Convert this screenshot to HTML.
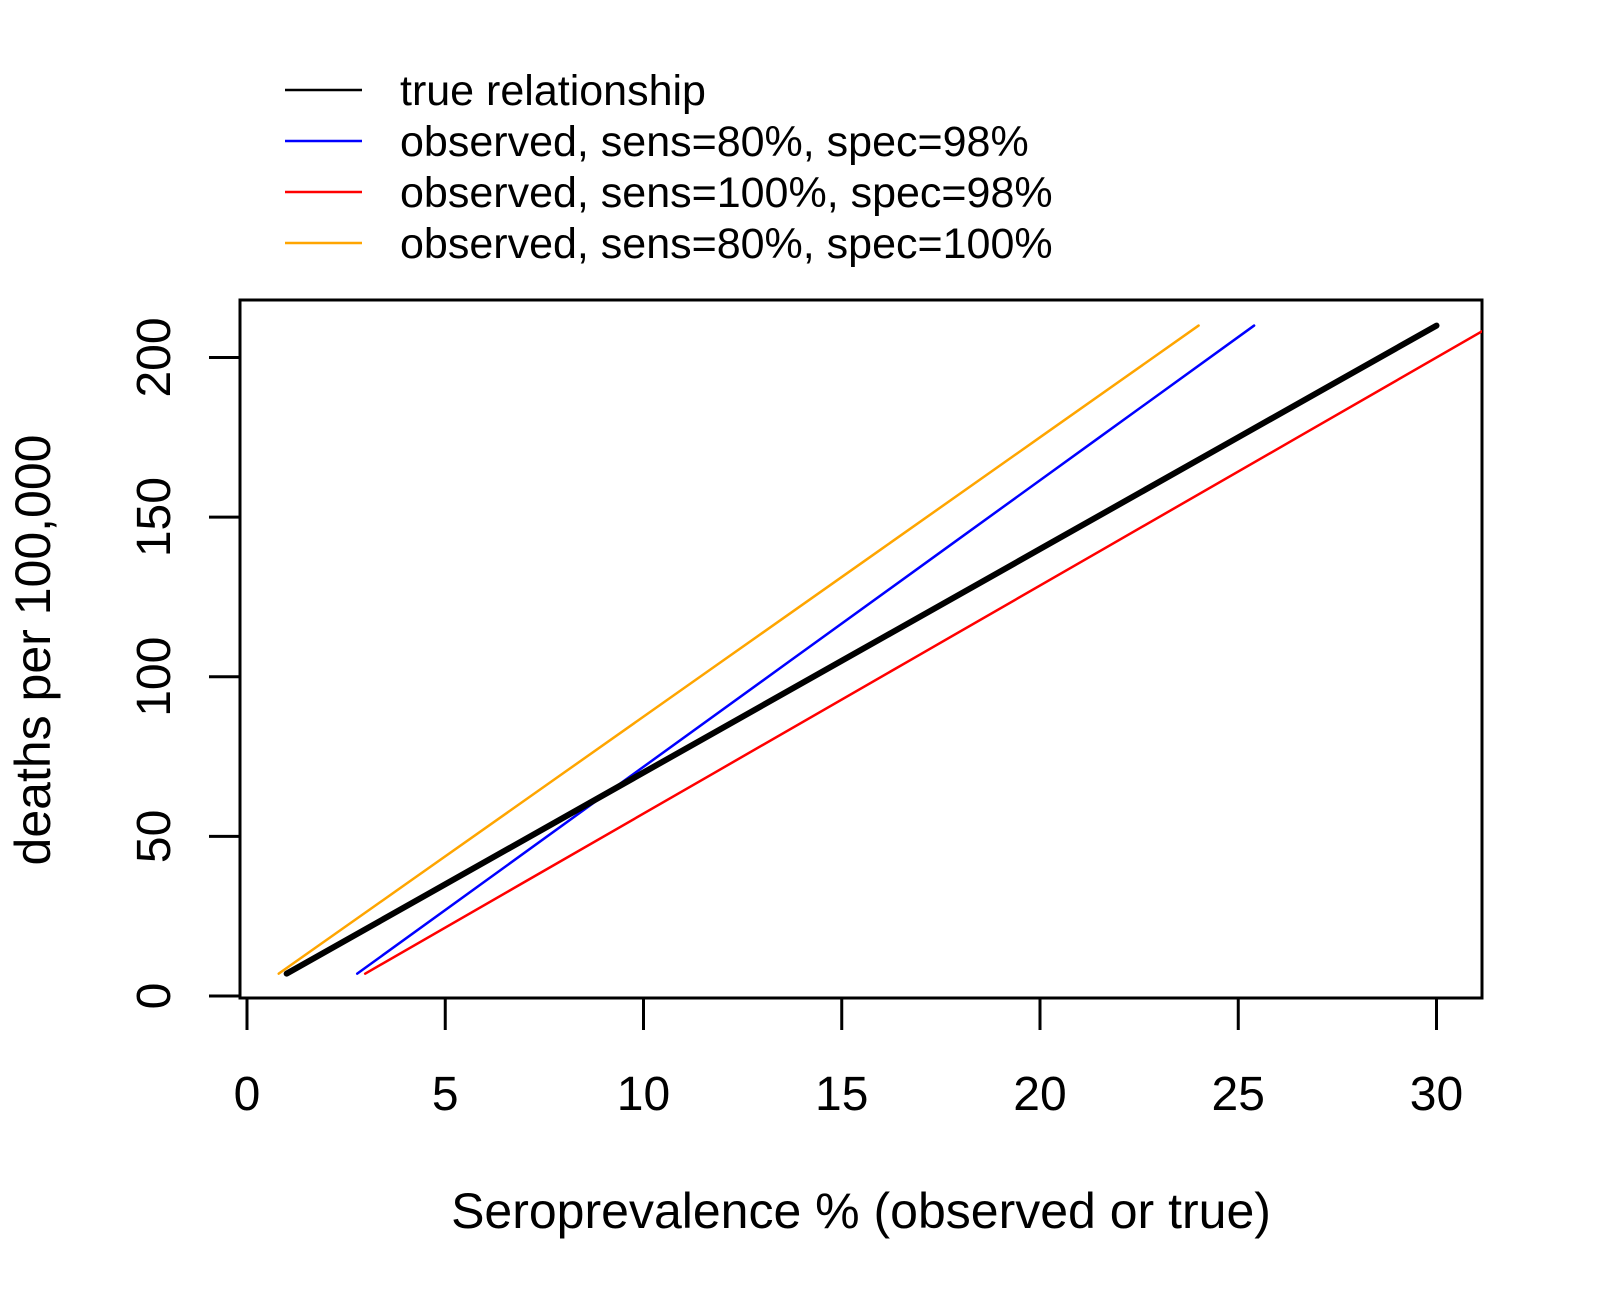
<!DOCTYPE html>
<html><head><meta charset="utf-8"><style>
html,body{margin:0;padding:0;background:#fff;}
svg{display:block;font-family:"Liberation Sans",Arial,sans-serif;}
</style></head><body>
<svg id="chart" width="1600" height="1300" viewBox="0 0 1600 1300">
<defs><clipPath id="plotclip"><rect x="240" y="300" width="1242" height="698"/></clipPath></defs>
<rect x="240" y="300" width="1242" height="698" fill="none" stroke="#000" stroke-width="3"/>
<g id="xticks"></g>
<g id="yticks"></g>
<g id="series" clip-path="url(#plotclip)"></g>
<g id="legend"></g>
<text x="861" y="1228" font-size="50" text-anchor="middle">Seroprevalence % (observed or true)</text>
<text x="0" y="0" font-size="50" text-anchor="middle" transform="translate(50,650) rotate(-90)">deaths per 100,000</text>
</svg>
<script>
const xTicks = [0,5,10,15,20,25,30];
const yTicks = [0,50,100,150,200];
const seriesNames = ["true relationship","observed, sens=80%, spec=98%","observed, sens=100%, spec=98%","observed, sens=80%, spec=100%"];
const deaths = [7,35,70,105,140,175,210];
const trueX = [1,5,10,15,20,25,30];
const blueX = [2.78,5.9,9.8,13.7,17.6,21.5,25.4];
const redX = [2.98,6.9,11.8,16.7,21.6,26.5,31.4];
const orangeX = [0.8,4,8,12,16,20,24];

const NS="http://www.w3.org/2000/svg";
function sx(v){return 247 + v*39.65;}
function sy(v){return 996 - v*3.1925;}
function mk(tag,attrs,parent){const e=document.createElementNS(NS,tag);for(const k in attrs)e.setAttribute(k,attrs[k]);parent.appendChild(e);return e;}

const xg=document.getElementById('xticks');
mk('line',{x1:sx(xTicks[0]),x2:sx(xTicks[xTicks.length-1]),y1:998,y2:998,stroke:'#000','stroke-width':3},xg);
xTicks.forEach(t=>{
  const l=mk('line',{x1:sx(t),x2:sx(t),y1:998,y2:1030,stroke:'#000','stroke-width':3},xg);
  
  
  const tx=mk('text',{x:sx(t),y:1110,'font-size':48,'text-anchor':'middle'},xg);
  tx.textContent=t;
  
  
});
const yg=document.getElementById('yticks');
yTicks.forEach(t=>{
  const l=mk('line',{x1:209,x2:240,y1:sy(t),y2:sy(t),stroke:'#000','stroke-width':3},yg);
  
  
  const tx=mk('text',{x:0,y:0,'font-size':48,'text-anchor':'middle',transform:`translate(170,${sy(t)}) rotate(-90)`},yg);
  tx.textContent=t;
  
  
});

const sg=document.getElementById('series');
const defs=[[trueX,'#000',6,'line-true'],[blueX,'#0000ff',2.5,'line-sens80-spec98'],[redX,'#ff0000',2.5,'line-sens100-spec98'],[orangeX,'#ffa500',2.5,'line-sens80-spec100']];
[2,1,3,0].forEach(i=>{
  const [xs,col,w,name]=defs[i];
  const pts=xs.map((x,j)=>sx(x)+','+sy(deaths[j])).join(' ');
  const p=mk('polyline',{points:pts,fill:'none',stroke:col,'stroke-width':w,'stroke-linecap':'round'},sg);
  
  
});

const lg=document.getElementById('legend');
const lcol=['#000','#0000ff','#ff0000','#ffa500'];
seriesNames.forEach((n,i)=>{
  const y=90+i*51;
  const l=mk('line',{x1:285,x2:362,y1:y,y2:y,stroke:lcol[i],'stroke-width':2.5},lg);
  
  
  const t=mk('text',{x:400,y:y+15,'font-size':43},lg);
  t.textContent=n;
  
  
});
</script>
</body></html>
